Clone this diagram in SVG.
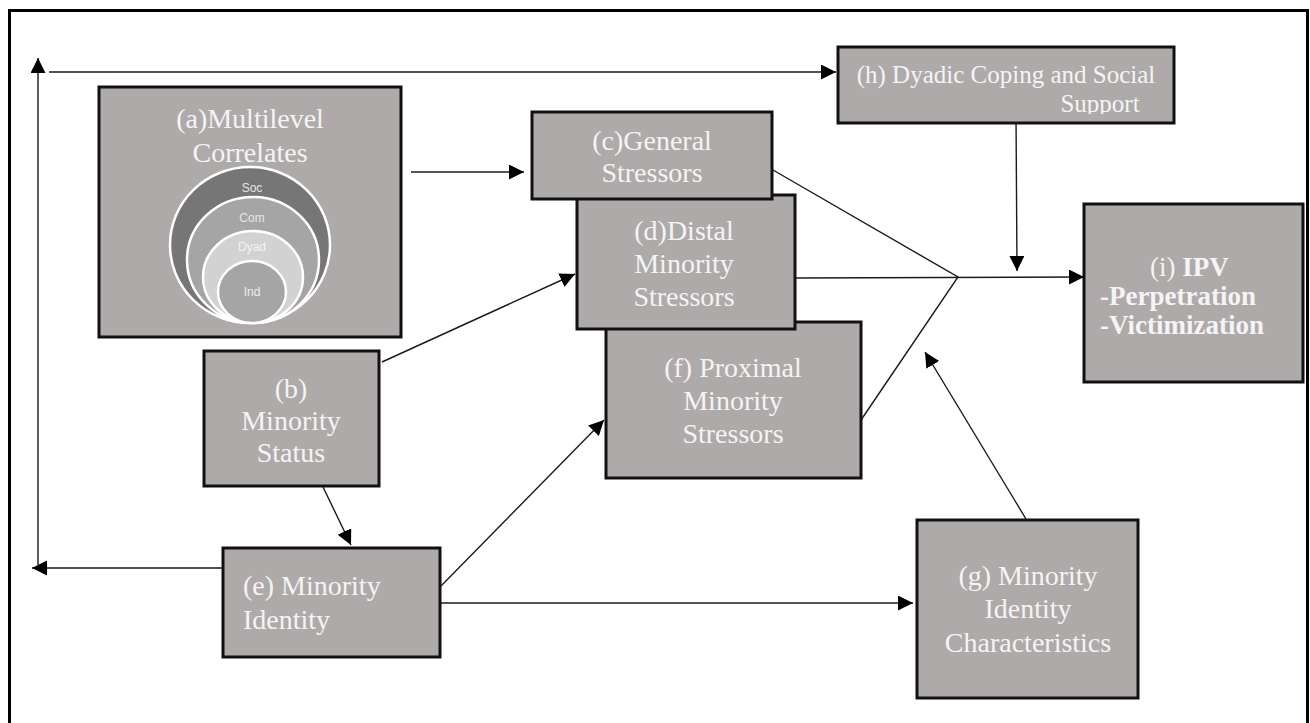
<svg xmlns="http://www.w3.org/2000/svg" width="1310" height="723" viewBox="0 0 1310 723">
<style>
.box{fill:#aeaaaa;stroke:#111;stroke-width:3}
.t{font-family:"Liberation Serif","Times New Roman",serif;font-size:28px;fill:#f4f4f4}
.th{font-family:"Liberation Serif","Times New Roman",serif;font-size:25px;fill:#f4f4f4}
.tb{font-family:"Liberation Serif","Times New Roman",serif;font-size:27px;fill:#f4f4f4}
.c{text-anchor:middle}
.lv{font-family:"Liberation Sans",Arial,sans-serif;font-size:12px;text-anchor:middle}
.ln{fill:none;stroke:#1a1a1a;stroke-width:1.4}
.circ{stroke:#fff;stroke-width:2.5}
</style>
<defs>
<marker id="ah" markerUnits="userSpaceOnUse" markerWidth="16" markerHeight="16" refX="15" refY="7.5" orient="auto">
<path d="M0,0 L15,7.5 L0,15 z" fill="#000"/>
</marker>
<clipPath id="hclip"><rect x="840" y="49" width="333" height="65"/></clipPath>
</defs>
<rect x="9.5" y="10.5" width="1298" height="730" fill="#fff" stroke="#000" stroke-width="3"/>

<g id="connectors">
<line class="ln" x1="38" y1="565" x2="38" y2="58" marker-end="url(#ah)"/>
<line class="ln" x1="49" y1="72" x2="836" y2="72" marker-end="url(#ah)"/>
<line class="ln" x1="230" y1="568" x2="32" y2="568" marker-end="url(#ah)"/>
<line class="ln" x1="411" y1="172" x2="524" y2="172" marker-end="url(#ah)"/>
<line class="ln" x1="382" y1="362" x2="575" y2="274" marker-end="url(#ah)"/>
<line class="ln" x1="323" y1="487" x2="351" y2="545" marker-end="url(#ah)"/>
<line class="ln" x1="441" y1="586" x2="604" y2="420" marker-end="url(#ah)"/>
<line class="ln" x1="441" y1="603" x2="913" y2="603" marker-end="url(#ah)"/>
<polyline class="ln" points="773,170 958,277 861,420"/>
<line class="ln" x1="796" y1="278" x2="1084" y2="277" marker-end="url(#ah)"/>
<line class="ln" x1="1016" y1="114" x2="1017" y2="271" marker-end="url(#ah)"/>
<line class="ln" x1="1026" y1="519" x2="925" y2="352" marker-end="url(#ah)"/>
</g>

<g id="node-a">
<rect class="box" x="99" y="87" width="302" height="250"/>
<text class="t c" x="250" y="128">(a)Multilevel</text>
<text class="t c" x="250" y="162">Correlates</text>
<ellipse class="circ" cx="250" cy="245" rx="80" ry="78" fill="#767676"/>
<ellipse class="circ" cx="253" cy="260" rx="66" ry="63" fill="#a5a5a5"/>
<ellipse class="circ" cx="253" cy="277" rx="50" ry="46" fill="#d2d2d2"/>
<ellipse class="circ" cx="252" cy="292" rx="34" ry="31" fill="#a5a5a5"/>
<text class="lv" x="252" y="192" fill="#e6e6e6">Soc</text>
<text class="lv" x="252" y="222" fill="#e6e6e6">Com</text>
<text class="lv" x="252" y="251" fill="#f4f4f4">Dyad</text>
<text class="lv" x="252" y="296" fill="#ededed">Ind</text>
</g>

<g id="node-b">
<rect class="box" x="204" y="351" width="175" height="135"/>
<text class="t c" x="291" y="398">(b)</text>
<text class="t c" x="291" y="430">Minority</text>
<text class="t c" x="291" y="462">Status</text>
</g>

<g id="node-f">
<rect class="box" x="606" y="322" width="255" height="156"/>
<text class="t c" x="733" y="377">(f) Proximal</text>
<text class="t c" x="733" y="410">Minority</text>
<text class="t c" x="733" y="443">Stressors</text>
</g>

<g id="node-d">
<rect class="box" x="577" y="195" width="218" height="134"/>
<text class="t c" x="684" y="240">(d)Distal</text>
<text class="t c" x="684" y="273">Minority</text>
<text class="t c" x="684" y="306">Stressors</text>
</g>

<g id="node-c">
<rect class="box" x="532" y="112" width="240" height="87"/>
<text class="t c" x="652" y="150">(c)General</text>
<text class="t c" x="652" y="182">Stressors</text>
</g>

<g id="node-e">
<rect class="box" x="223" y="548" width="217" height="109"/>
<text class="t" x="243" y="595">(e) Minority</text>
<text class="t" x="243" y="629">Identity</text>
</g>

<g id="node-g">
<rect class="box" x="917" y="520" width="221" height="178"/>
<text class="t c" x="1028" y="585">(g) Minority</text>
<text class="t c" x="1028" y="618">Identity</text>
<text class="t c" x="1028" y="652">Characteristics</text>
</g>

<g id="node-h">
<rect class="box" x="838" y="47" width="336" height="76"/>
<g clip-path="url(#hclip)">
<text class="th c" x="1006" y="83">(h) Dyadic Coping and Social</text>
<text class="th c" x="1100" y="112">Support</text>
</g>
</g>

<g id="node-i">
<rect class="box" x="1084" y="204" width="219" height="178"/>
<text class="tb" x="1150" y="276">(i) <tspan font-weight="bold">IPV</tspan></text>
<text class="tb" x="1100" y="305" font-weight="bold">-Perpetration</text>
<text class="tb" x="1100" y="334" font-weight="bold">-Victimization</text>
</g>
</svg>
